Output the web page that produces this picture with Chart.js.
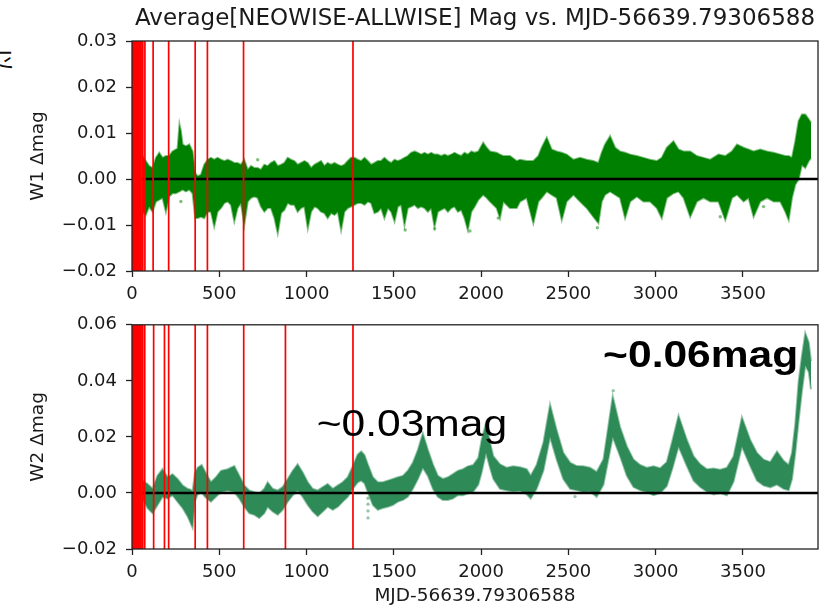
<!DOCTYPE html>
<html>
<head>
<meta charset="utf-8">
<script src="https://cdn.jsdelivr.net/npm/chart.js@4.4.1/dist/chart.umd.min.js"></script>
<style>
  html, body { margin: 0; padding: 0; background: #fff; width: 826px; height: 610px; overflow: hidden; position: relative; }
  canvas { position: absolute; left: 0; }
  #w1 { top: 0; }
  #w2 { top: 305px; }
  .glyph { position: absolute; left: -9px; top: 48px; width: 24px; height: 24px; line-height: 24px;
           font-size: 24px; font-family: 'Noto Sans CJK SC', sans-serif; color: #111; transform: rotate(90deg); }
</style>
</head>
<body>
<div class="glyph">以</div>
<canvas id="w1" width="826" height="305" style="width:826px;height:305px"></canvas>
<canvas id="w2" width="826" height="305" style="width:826px;height:305px"></canvas>
<script>
// Days since MJD 56639.79306588 and the envelope of the W1 Δmag cloud
const W1_T = [
  60, 79, 98, 118, 137, 156, 175, 194, 213, 232,
  251, 261, 272, 280, 290, 309, 328, 347, 362, 376,
  395, 414, 433, 452, 471, 490, 510, 529, 548, 567,
  586, 605, 624, 643, 663, 682, 701, 720, 739, 758,
  777, 796, 816, 835, 854, 873, 892, 911, 930, 949,
  968, 988, 1007, 1026, 1045, 1064, 1083, 1102, 1121, 1141,
  1160, 1179, 1198, 1217, 1236, 1255, 1274, 1294, 1313, 1332,
  1351, 1370, 1389, 1408, 1427, 1446, 1466, 1485, 1504, 1523,
  1542, 1561, 1580, 1599, 1619, 1638, 1657, 1676, 1695, 1714,
  1733, 1752, 1771, 1791, 1810, 1829, 1848, 1867, 1886, 1905,
  1924, 1944, 1963, 1984, 2012, 2032, 2051, 2089, 2108, 2127,
  2165, 2204, 2223, 2261, 2299, 2328, 2347, 2376, 2404, 2433,
  2462, 2490, 2529, 2567, 2605, 2643, 2672, 2691, 2710, 2739,
  2768, 2796, 2825, 2854, 2892, 2930, 2968, 3007, 3035, 3064,
  3102, 3131, 3160, 3198, 3236, 3274, 3313, 3360, 3399, 3437,
  3466, 3504, 3532, 3561, 3599, 3638, 3676, 3714, 3743, 3762,
  3781, 3800, 3819, 3838, 3857, 3877, 3890
];
const W1_HI = [
  .0050, .0039, .0028, .0024, .0046, .0057, .0046, .0050, .0050, .0060,
  .0064, .0066, .0119, .0105, .0075, .0071, .0075, .0060, .0013, .0006,
  .0009, .0031, .0042, .0046, .0042, .0046, .0042, .0039, .0042, .0039,
  .0035, .0035, .0031, .0042, .0020, .0028, .0024, .0024, .0020, .0031,
  .0028, .0035, .0039, .0028, .0031, .0035, .0046, .0042, .0039, .0031,
  .0035, .0039, .0035, .0024, .0031, .0035, .0039, .0028, .0035, .0031,
  .0035, .0031, .0028, .0031, .0039, .0046, .0046, .0042, .0039, .0046,
  .0039, .0031, .0035, .0039, .0039, .0046, .0039, .0035, .0042, .0039,
  .0042, .0046, .0050, .0057, .0060, .0057, .0053, .0057, .0053, .0057,
  .0053, .0053, .0050, .0053, .0050, .0053, .0057, .0053, .0050, .0057,
  .0053, .0060, .0057, .0060, .0079, .0068, .0060, .0057, .0053, .0050,
  .0050, .0039, .0042, .0039, .0039, .0050, .0068, .0090, .0064, .0060,
  .0057, .0053, .0042, .0046, .0042, .0039, .0035, .0057, .0075, .0093,
  .0068, .0060, .0057, .0053, .0050, .0046, .0042, .0039, .0046, .0068,
  .0082, .0064, .0060, .0060, .0050, .0046, .0042, .0053, .0050, .0060,
  .0075, .0068, .0064, .0060, .0064, .0060, .0057, .0053, .0050, .0050,
  .0046, .0082, .0126, .0140, .0140, .0130, .0122
];
const W1_LO = [
  -.0071, -.0078, -.0060, -.0071, -.0049, -.0045, -.0041, -.0071, -.0038, -.0031,
  -.0031, -.0029, -.0027, -.0025, -.0023, -.0027, -.0023, -.0031, -.0085, -.0085,
  -.0082, -.0085, -.0071, -.0071, -.0103, -.0071, -.0063, -.0052, -.0049, -.0056,
  -.0092, -.0063, -.0052, -.0100, -.0049, -.0041, -.0038, -.0041, -.0060, -.0071,
  -.0063, -.0063, -.0085, -.0118, -.0074, -.0067, -.0052, -.0056, -.0056, -.0071,
  -.0063, -.0060, -.0107, -.0071, -.0060, -.0063, -.0071, -.0074, -.0085, -.0074,
  -.0078, -.0071, -.0111, -.0071, -.0063, -.0060, -.0056, -.0052, -.0052, -.0056,
  -.0049, -.0052, -.0074, -.0071, -.0063, -.0085, -.0063, -.0071, -.0092, -.0060,
  -.0056, -.0100, -.0063, -.0060, -.0056, -.0063, -.0060, -.0063, -.0071, -.0063,
  -.0103, -.0071, -.0067, -.0063, -.0071, -.0063, -.0060, -.0071, -.0067, -.0085,
  -.0111, -.0071, -.0060, -.0045, -.0034, -.0041, -.0049, -.0063, -.0085, -.0049,
  -.0063, -.0063, -.0049, -.0041, -.0096, -.0049, -.0041, -.0027, -.0034, -.0041,
  -.0089, -.0049, -.0034, -.0049, -.0063, -.0082, -.0096, -.0049, -.0034, -.0027,
  -.0034, -.0041, -.0085, -.0049, -.0038, -.0049, -.0049, -.0063, -.0085, -.0041,
  -.0031, -.0027, -.0041, -.0082, -.0049, -.0041, -.0049, -.0049, -.0089, -.0041,
  -.0034, -.0049, -.0041, -.0082, -.0049, -.0041, -.0049, -.0049, -.0071, -.0089,
  -.0041, -.0012, -.0001, .0031, .0024, .0039, .0046
];
const W1_STRAY_T = [280, 720, 1565, 1734, 1936, 2098, 2666, 3370, 3618];
const W1_STRAY_V = [-.0049, .0042, -.0111, -.0108, -.0113, -.0085, -.0106, -.0082, -.0060];

// Envelope of the W2 Δmag band
const W2_T = [
  60, 89, 118, 146, 175, 204, 232, 261, 290, 318,
  334, 347, 360, 376, 399, 420, 452, 481, 510, 548,
  586, 615, 643, 672, 701, 729, 758, 777, 806, 835,
  863, 892, 921, 949, 978, 1007, 1035, 1064, 1093, 1121,
  1150, 1179, 1207, 1236, 1265, 1293, 1313, 1332, 1351, 1380,
  1408, 1437, 1466, 1494, 1523, 1552, 1580, 1609, 1638, 1666,
  1695, 1724, 1752, 1781, 1810, 1838, 1867, 1896, 1924, 1955,
  1984, 2003, 2028, 2051, 2070, 2108, 2146, 2184, 2223, 2261,
  2284, 2318, 2357, 2395, 2433, 2471, 2510, 2548, 2586, 2624,
  2662, 2701, 2754, 2796, 2835, 2873, 2911, 2949, 2988, 3026,
  3064, 3097, 3131, 3179, 3217, 3255, 3293, 3332, 3370, 3408,
  3446, 3494, 3542, 3580, 3618, 3657, 3695, 3733, 3762, 3781,
  3800, 3819, 3838, 3857, 3877, 3890
];
const W2_HI = [
  .0044, .0032, .0015, .0061, .0085, .0056, .0067, .0050, .0027, .0015,
  .0012, .0005, .0070, .0090, .0100, .0075, .0038, .0056, .0079, .0085,
  .0096, .0061, .0027, .0009, .0003, -.0002, .0015, .0038, .0015, .0009,
  .0021, .0050, .0079, .0102, .0073, .0038, .0015, .0009, .0021, .0032,
  .0015, .0027, .0038, .0056, .0096, .0137, .0148, .0135, .0102, .0056,
  .0038, .0038, .0044, .0050, .0056, .0061, .0079, .0108, .0154, .0212,
  .0154, .0102, .0061, .0050, .0056, .0067, .0079, .0085, .0095, .0100,
  .0125, .0189, .0250, .0180, .0131, .0102, .0090, .0095, .0092, .0085,
  .0061, .0100, .0180, .0316, .0224, .0143, .0108, .0096, .0095, .0090,
  .0075, .0120, .0345, .0235, .0166, .0119, .0100, .0090, .0095, .0088,
  .0110, .0190, .0276, .0189, .0131, .0102, .0085, .0087, .0083, .0090,
  .0130, .0270, .0189, .0143, .0119, .0110, .0148, .0115, .0100, .0143,
  .0247, .0398, .0490, .0571, .0537, .0470
];
const W2_LO = [
  -.0020, -.0054, -.0072, -.0043, -.0014, -.0020, -.0008, -.0031, -.0054, -.0083,
  -.0105, -.0124, -.0030, -.0005, .0002, -.0015, -.0031, -.0014, .0003, .0009,
  .0003, -.0020, -.0049, -.0072, -.0078, -.0089, -.0072, -.0049, -.0066, -.0078,
  -.0060, -.0031, -.0008, .0009, -.0014, -.0043, -.0066, -.0083, -.0066, -.0049,
  -.0060, -.0049, -.0031, -.0014, .0015, .0038, .0044, .0035, .0003, -.0043,
  -.0060, -.0054, -.0049, -.0043, -.0031, -.0025, -.0014, .0015, .0050, .0090,
  .0061, .0015, -.0014, -.0025, -.0025, -.0020, -.0008, -.0008, -.0002, .0005,
  .0030, .0073, .0143, .0090, .0050, .0015, .0010, .0005, .0008, -.0005,
  -.0020, .0015, .0080, .0200, .0119, .0050, .0015, .0010, .0003, .0005,
  -.0014, .0030, .0200, .0131, .0061, .0021, .0010, .0003, -.0008, .0000,
  .0025, .0090, .0166, .0096, .0044, .0021, .0005, -.0005, .0000, -.0008,
  .0040, .0166, .0096, .0044, .0027, .0020, .0030, .0015, .0010, .0050,
  .0143, .0258, .0363, .0455, .0432, .0370
];
const W2_STRAY_T = [1352, 1352, 1352, 1352, 2538, 2757];
const W2_STRAY_V = [-.0019, -.0040, -.0064, -.0089, -.0013, .0365];

// Epochs marked with red vertical lines
const RED_W1 = [1, 4, 7, 10, 13, 16, 19, 22, 25, 28, 31, 34, 37, 40, 43, 46, 49, 52,
                62, 74, 121, 210, 362, 432, 639, 1266];
const RED_W2 = [1, 4, 7, 10, 13, 16, 19, 22, 25, 28, 31, 34, 37, 40, 43, 46, 49, 52,
                62, 73, 124, 186, 210, 362, 432, 640, 879, 1266];

// Axis ticks
const X_TICKS = [0, 500, 1000, 1500, 2000, 2500, 3000, 3500];
const W1_Y_TICKS = [-0.02, -0.01, 0.00, 0.01, 0.02, 0.03];
const W2_Y_TICKS = [-0.02, 0.00, 0.02, 0.04, 0.06];
const X_MAX = 3930;

const FONT = "'DejaVu Sans', sans-serif";
Chart.defaults.font.family = FONT;
Chart.defaults.color = '#1a1a1a';

const pts = (xs, ys) => xs.map((t, i) => ({ x: t, y: ys[i] }));
const fmtTick = v => (Math.abs(v) < 1e-9 ? '0.00' : v.toFixed(2)).replace('-', '\u2212');

// Zero line, epoch markers, frame, heading and text notes
const guides = {
  id: 'guides',
  afterDatasetsDraw(chart, _args, o) {
    const { ctx, chartArea: a, scales: { x, y } } = chart;
    ctx.save();
    ctx.beginPath();
    ctx.rect(a.left, a.top, a.right - a.left, a.bottom - a.top);
    ctx.clip();
    const y0 = y.getPixelForValue(0);
    ctx.strokeStyle = '#000';
    ctx.lineWidth = 2.6;
    ctx.beginPath();
    ctx.moveTo(a.left, y0);
    ctx.lineTo(a.right, y0);
    ctx.stroke();
    ctx.strokeStyle = '#ff0000';
    ctx.lineWidth = 1.7;
    for (const t of o.epochs) {
      const px = x.getPixelForValue(t);
      ctx.beginPath();
      ctx.moveTo(px, a.top);
      ctx.lineTo(px, a.bottom);
      ctx.stroke();
    }
    ctx.restore();

    ctx.save();
    ctx.strokeStyle = '#222';
    ctx.lineWidth = 1.3;
    ctx.strokeRect(a.left, a.top, a.right - a.left, a.bottom - a.top);
    ctx.restore();

    if (o.heading) {
      ctx.save();
      ctx.font = "23px 'DejaVu Sans', sans-serif";
      ctx.fillStyle = '#1a1a1a';
      ctx.textAlign = 'center';
      ctx.textBaseline = 'alphabetic';
      ctx.fillText(o.heading, (a.left + a.right) / 2, a.top - 16);
      ctx.restore();
    }

    for (const n of (o.notes || [])) {
      const px = x.getPixelForValue(n.x);
      const py = y.getPixelForValue(n.y);
      ctx.save();
      ctx.translate(px, py);
      ctx.scale(1.15, 1);
      ctx.font = (n.bold ? 'bold ' : '') + "37px 'Liberation Sans', Arial, sans-serif";
      ctx.fillStyle = '#000';
      ctx.textBaseline = 'alphabetic';
      ctx.textAlign = 'left';
      ctx.fillText(n.text, 0, 0);
      ctx.restore();
    }
  }
};

function tickAxis(extra) {
  return Object.assign({
    grid: { drawOnChartArea: false, tickLength: 6, tickColor: '#222', tickWidth: 1.3 },
    border: { display: false }
  }, extra);
}

function panel(id, cfg) {
  return new Chart(document.getElementById(id), {
    type: 'line',
    data: {
      datasets: [
        { data: pts(cfg.t, cfg.hi), fill: '+1', backgroundColor: cfg.color, borderColor: cfg.edge,
          borderWidth: 2, pointRadius: 0, tension: 0 },
        { data: pts(cfg.t, cfg.lo), fill: false, borderColor: cfg.edge,
          borderWidth: 2, pointRadius: 0, tension: 0 },
        { data: pts(cfg.st, cfg.sv), showLine: false, pointRadius: 1.7, pointBorderWidth: 0,
          pointBackgroundColor: cfg.edge }
      ]
    },
    options: {
      responsive: false,
      animation: false,
      devicePixelRatio: 1,
      events: [],
      layout: { padding: { left: 0, right: 8, top: cfg.padTop, bottom: 0 } },
      plugins: {
        legend: { display: false },
        tooltip: { enabled: false },
        title: { display: false },
        guides: { epochs: cfg.epochs, notes: cfg.notes, heading: cfg.heading }
      },
      scales: {
        x: tickAxis({
          type: 'linear', min: 0, max: X_MAX,
          afterBuildTicks: ax => { ax.ticks = X_TICKS.map(v => ({ value: v })); },
          afterFit: ax => { ax.height = cfg.xh; },
          ticks: { font: { size: 18 }, color: '#1a1a1a', padding: 7, maxRotation: 0, autoSkip: false,
                   callback: v => String(v) },
          title: cfg.xTitle
            ? { display: true, text: cfg.xTitle, color: '#1a1a1a', font: { size: 18.5 }, padding: { top: 0, bottom: 3 } }
            : { display: false }
        }),
        y: tickAxis({
          type: 'linear', min: cfg.yTicks[0], max: cfg.yTicks[cfg.yTicks.length - 1],
          afterBuildTicks: ax => { ax.ticks = cfg.yTicks.map(v => ({ value: v })); },
          afterFit: ax => { ax.width = 132; },
          ticks: { font: { size: 18 }, color: '#1a1a1a', padding: 9, callback: v => fmtTick(v) },
          title: { display: true, text: cfg.yTitle, color: '#1a1a1a', font: { size: 18.5 }, padding: { top: 27, bottom: 0 } }
        })
      }
    },
    plugins: [guides]
  });
}

panel('w1', {
  t: W1_T, hi: W1_HI, lo: W1_LO, st: W1_STRAY_T, sv: W1_STRAY_V,
  color: '#008000', edge: 'rgba(0,128,0,0.5)',
  epochs: RED_W1, yTicks: W1_Y_TICKS, yTitle: 'W1 \u0394mag',
  heading: 'Average[NEOWISE-ALLWISE] Mag vs. MJD-56639.79306588',
  padTop: 41, xh: 34, notes: []
});

panel('w2', {
  t: W2_T, hi: W2_HI, lo: W2_LO, st: W2_STRAY_T, sv: W2_STRAY_V,
  color: '#2e8b57', edge: 'rgba(46,139,87,0.5)',
  epochs: RED_W2, yTicks: W2_Y_TICKS, yTitle: 'W2 \u0394mag',
  xTitle: 'MJD-56639.79306588',
  padTop: 14, xh: 61,
  notes: [
    { text: '~0.03mag', x: 1058, y: 0.0203, bold: false },
    { text: '~0.06mag', x: 2699, y: 0.0450, bold: true }
  ]
});
</script>
</body>
</html>
